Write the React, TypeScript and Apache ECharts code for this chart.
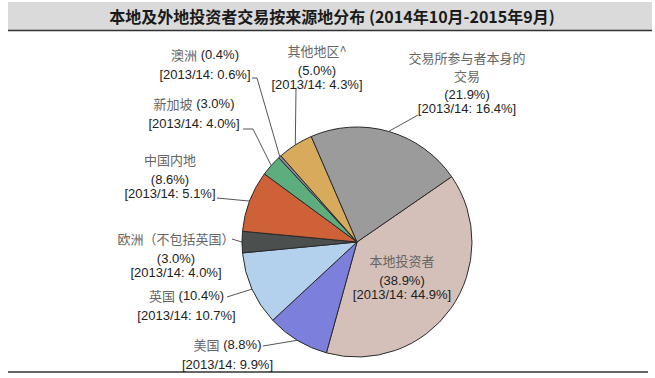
import React, { useEffect, useRef } from "react";
import * as echarts from "echarts";

const TITLE = "本地及外地投资者交易按来源地分布 (2014年10月-2015年9月)";
const CATEGORIES = [
  "本地投资者",
  "美国",
  "英国",
  "欧洲（不包括英国）",
  "中国内地",
  "新加坡",
  "澳洲",
  "其他地区^",
  "交易所参与者本身的交易",
];
const LABEL_NAMES = [
  "本地投资者",
  "美国",
  "英国",
  "欧洲（不包括英国）",
  "中国内地",
  "新加坡",
  "澳洲",
  "其他地区^",
  "交易所参与者本身的\n交易",
];
const SHARE_2015 = [38.9, 8.8, 10.4, 3.0, 8.6, 3.0, 0.4, 5.0, 21.9];
const SHARE_2014 = [44.9, 9.9, 10.7, 4.0, 5.1, 4.0, 0.6, 4.3, 16.4];
const PREV_PERIOD = "2013/14";
const NAME_INLINE = [false, true, true, false, false, true, true, false, false];
const COLORS = [
  "#d4c0b9",
  "#7c80dc",
  "#b3d1ec",
  "#4b4f4d",
  "#cf6139",
  "#5dad7f",
  "#8e8ba0",
  "#d8ab5c",
  "#9b9b9b",
];

// label placement (style/layout only)
const LABEL_POS: { x: number; y: number; line: number[][] }[] = [
  { x: 402, y: 252.5, line: [] },
  { x: 227.5, y: 336.5, line: [[263, 346]] },
  { x: 186.5, y: 287.5, line: [[227, 297]] },
  { x: 176, y: 230.5, line: [[232, 239]] },
  { x: 170, y: 151.5, line: [[217, 198]] },
  { x: 194, y: 95.5, line: [[253, 129], [243, 129]] },
  { x: 205, y: 46.5, line: [[257, 78], [252, 78]] },
  { x: 317, y: 42.5, line: [[296, 88]] },
  { x: 467, y: 47, line: [[418, 115]] },
];

function formatLabel(i: number): string {
  const lines = LABEL_NAMES[i].split("\n");
  const cur = `(${SHARE_2015[i].toFixed(1)}%)`;
  const prev = `[${PREV_PERIOD}: ${SHARE_2014[i].toFixed(1)}%]`;
  if (NAME_INLINE[i]) {
    return `{n|${lines[0]}}{v| ${cur}}\n{g|${prev}}`;
  }
  const nameLines = lines.map((l, k) =>
    lines.length > 1 && k < lines.length - 1 ? `{m|${l}}` : `{n|${l}}`
  );
  return nameLines.join("\n") + `\n{g|${cur}}\n{v|${prev}}`;
}

export default function App() {
  const ref = useRef<HTMLDivElement>(null);
  useEffect(() => {
    if (!ref.current) return;
    const chart = echarts.init(ref.current, undefined, { renderer: "svg" });
    const numFont = "'Liberation Sans', Arial, sans-serif";
    const cjkFont = "'Noto Sans CJK SC', sans-serif";
    const data = CATEGORIES.map((name, i) => {
      const item: any = {
        name,
        value: SHARE_2015[i],
        itemStyle: { color: COLORS[i] },
      };
      if (i === 0) {
        item.label = { position: "inside" };
        item.labelLine = { show: false };
      }
      return item;
    });
    chart.setOption({
      animation: false,
      backgroundColor: "#ffffff",
      graphic: [
        {
          type: "rect",
          shape: { x: 8, y: 2, width: 644, height: 28 },
          style: { fill: "#dadada" },
          silent: true,
        },
        {
          type: "line",
          shape: { x1: 8, y1: 30.5, x2: 652, y2: 30.5 },
          style: { stroke: "#333", lineWidth: 1.5 },
          silent: true,
        },
        {
          type: "text",
          x: 332,
          y: 16,
          style: {
            text: TITLE,
            fill: "#1a1a1a",
            font: `bold 16px ${cjkFont}`,
            align: "center",
            verticalAlign: "middle",
          },
          silent: true,
        },
        {
          type: "line",
          shape: { x1: 8, y1: 372, x2: 648, y2: 372 },
          style: { stroke: "#333", lineWidth: 1.5 },
          silent: true,
        },
      ],
      series: [
        {
          type: "pie",
          center: [357, 242],
          radius: 115,
          startAngle: 34.6,
          clockwise: true,
          avoidLabelOverlap: false,
          data,
          itemStyle: { borderColor: "#2a2a2a", borderWidth: 1 },
          emphasis: { disabled: true },
          label: {
            show: true,
            position: "outside",
            formatter: (p: any) => formatLabel(p.dataIndex),
            align: "center",
            rich: {
              m: { fontFamily: cjkFont, fontSize: 13, color: "#666", lineHeight: 20 },
              n: { fontFamily: cjkFont, fontSize: 13, color: "#666", lineHeight: 16 },
              v: { fontFamily: numFont, fontSize: 13, color: "#222", lineHeight: 15 },
              g: {
                fontFamily: numFont,
                fontSize: 13,
                color: "#222",
                lineHeight: 18,
                verticalAlign: "bottom",
              },
            },
          },
          labelLine: {
            show: true,
            length: 10,
            length2: 10,
            lineStyle: { color: "#555", width: 1 },
          },
          labelLayout: (params: any) => {
            const pos = LABEL_POS[params.dataIndex];
            const out: any = {
              x: pos.x,
              y: pos.y,
              align: "center",
              verticalAlign: "top",
            };
            const pts = params.labelLinePoints;
            if (pts && pts.length && pos.line.length) {
              out.labelLinePoints = [pts[0], ...pos.line];
            }
            return out;
          },
        },
      ],
    });
    return () => chart.dispose();
  }, []);
  return (
    <div
      ref={ref}
      style={{ position: "absolute", left: 0, top: 0, width: 655, height: 378 }}
    />
  );
}
